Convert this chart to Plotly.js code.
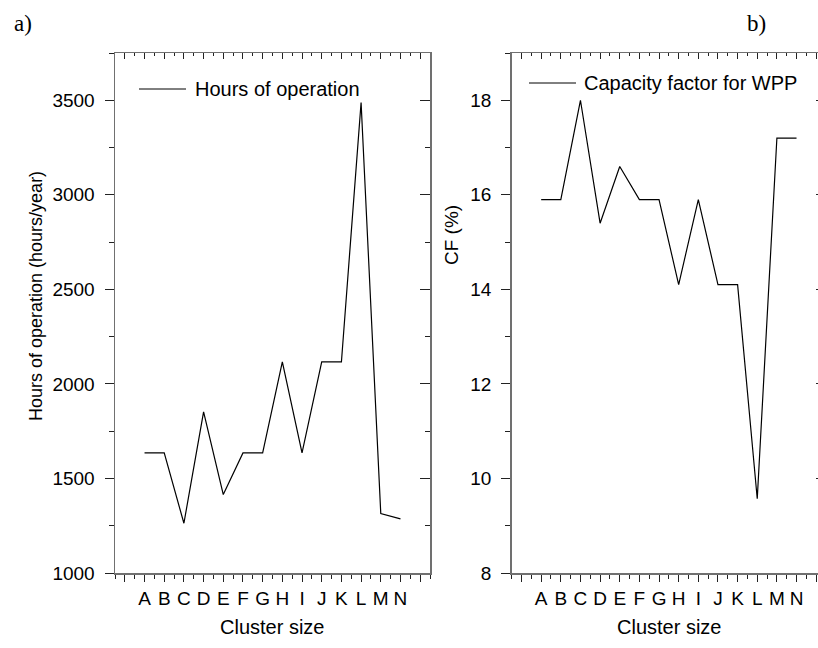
<!DOCTYPE html>
<html>
<head>
<meta charset="utf-8">
<script src="https://cdn.plot.ly/plotly-3.0.1.min.js"></script>
<style>
  html, body { margin: 0; padding: 0; overflow: hidden; background: #fff; }
  #chart { width: 830px; height: 648px; }
</style>
</head>
<body>
<div id="chart"></div>
<script>
// Cluster categories and the two measured series
const clusters = ['A', 'B', 'C', 'D', 'E', 'F', 'G', 'H', 'I', 'J', 'K', 'L', 'M', 'N'];
const hoursOfOperation = [1635, 1635, 1263, 1852, 1415, 1635, 1635, 2116, 1635, 2116, 2116, 3488, 1314, 1286];
const capacityFactor = [15.9, 15.9, 18.0, 15.4, 16.6, 15.9, 15.9, 14.1, 15.9, 14.1, 14.1, 9.57, 17.2, 17.2];
const hoursTicks = [1000, 1500, 2000, 2500, 3000, 3500];
const cfTicks = [8, 10, 12, 14, 16, 18];

const seriesNames = ['Hours of operation', 'Capacity factor for WPP'];
const axisTitles = ['Hours of operation (hours/year)', 'CF (%)', 'Cluster size'];
const panelLabels = ['a)', 'b)'];

// numeric positions 1..14 for the clusters; ticks also at 0 and 15 (unlabelled)
const xPos = clusters.map((_, i) => i + 1);
const xTickVals = [0].concat(xPos, [15]);
const xTickText = [''].concat(clusters, ['']);

const W = 830, H = 648;
const px = v => v / W;
const py = v => 1 - v / H;

const FONT = 'Liberation Sans, Arial, Helvetica, sans-serif';
const SERIF = 'Liberation Serif, Times New Roman, serif';
const AXIS_LINE = '#707070';
const TICK = '#222';

const yDom = [py(573), py(53)];
const xDomA = [px(115), px(430)];
const xDomB = [px(511.7), px(826)];
const xRange = [-0.5, 15.5];

function bottomAxis(domain, anchor) {
  return {
    domain: domain, anchor: anchor, range: xRange,
    tickmode: 'array', tickvals: xTickVals, ticktext: xTickText,
    ticks: 'outside', ticklen: 7, tickwidth: 1, tickcolor: TICK,
    minor: { ticks: 'outside', ticklen: 4, tickwidth: 1, tickcolor: TICK, dtick: 0.5, tick0: -0.5 },
    showline: true, linecolor: AXIS_LINE, linewidth: 1.5,
    showgrid: false, zeroline: false, ticklabelstandoff: 1,
    tickfont: { family: FONT, size: 19, color: '#000' }
  };
}
function topAxis(over, anchor) {
  return {
    overlaying: over, anchor: anchor, side: 'top', range: xRange,
    tickmode: 'array', tickvals: xTickVals, showticklabels: false,
    ticks: 'inside', ticklen: 6, tickwidth: 1, tickcolor: TICK,
    minor: { ticks: 'inside', ticklen: 3, tickwidth: 1, tickcolor: TICK, dtick: 0.5, tick0: -0.5 },
    showline: true, linecolor: AXIS_LINE, linewidth: 1.5,
    showgrid: false, zeroline: false
  };
}
function leftAxis(anchor, range, ticks, minorStep) {
  return {
    domain: yDom, anchor: anchor, range: range,
    tickmode: 'array', tickvals: ticks,
    ticks: 'outside', ticklen: 9, tickwidth: 1, tickcolor: TICK,
    minor: { ticks: 'outside', ticklen: 5, tickwidth: 1, tickcolor: TICK, dtick: minorStep, tick0: range[0] },
    showline: true, linecolor: AXIS_LINE, linewidth: 1.5,
    showgrid: false, zeroline: false, ticklabelstandoff: 6,
    tickfont: { family: FONT, size: 19, color: '#000' }
  };
}
function rightAxis(over, anchor, range, ticks, minorStep) {
  return {
    overlaying: over, anchor: anchor, side: 'right', range: range,
    tickmode: 'array', tickvals: ticks, showticklabels: false,
    ticks: 'inside', ticklen: 10, tickwidth: 1, tickcolor: TICK,
    minor: { ticks: 'inside', ticklen: 5, tickwidth: 1, tickcolor: TICK, dtick: minorStep, tick0: range[0] },
    showline: true, linecolor: AXIS_LINE, linewidth: 1.5,
    showgrid: false, zeroline: false
  };
}

const hoursRange = [1000, 3750];
const cfRange = [8, 19];

const traces = [
  { x: xPos, y: hoursOfOperation, name: seriesNames[0], type: 'scatter', mode: 'lines',
    line: { color: '#000', width: 1.2 }, xaxis: 'x', yaxis: 'y', showlegend: false },
  { x: xPos, y: capacityFactor, name: seriesNames[1], type: 'scatter', mode: 'lines',
    line: { color: '#000', width: 1.2 }, xaxis: 'x3', yaxis: 'y3', showlegend: false },
  // empty traces that carry the mirrored frame axes
  { x: [], y: [], xaxis: 'x2', yaxis: 'y2', showlegend: false, hoverinfo: 'skip' },
  { x: [], y: [], xaxis: 'x4', yaxis: 'y4', showlegend: false, hoverinfo: 'skip' }
];

// legend keys (short line + series name) inside each panel
const legendKeys = [
  { x0: 139, x1: 186, y: 89, tx: 193, text: seriesNames[0] },
  { x0: 529, x1: 576, y: 83, tx: 582, text: seriesNames[1] }
];

const shapes = legendKeys.map(k => ({
  type: 'line', xref: 'paper', yref: 'paper',
  x0: px(k.x0), x1: px(k.x1), y0: py(k.y), y1: py(k.y),
  line: { color: '#000', width: 1 }
}));

const annotations = legendKeys.map(k => ({
  xref: 'paper', yref: 'paper', x: px(k.tx), y: py(k.y),
  xanchor: 'left', yanchor: 'middle', showarrow: false, text: k.text,
  font: { family: FONT, size: 20, color: '#000' }
})).concat([
  { xref: 'paper', yref: 'paper', x: px(36), y: py(296), textangle: -90,
    xanchor: 'center', yanchor: 'middle', showarrow: false, text: axisTitles[0],
    font: { family: FONT, size: 18, color: '#000' } },
  { xref: 'paper', yref: 'paper', x: px(452), y: py(235), textangle: -90,
    xanchor: 'center', yanchor: 'middle', showarrow: false, text: axisTitles[1],
    font: { family: FONT, size: 19, color: '#000' } },
  { xref: 'paper', yref: 'paper', x: px(272), y: py(627),
    xanchor: 'center', yanchor: 'middle', showarrow: false, text: axisTitles[2],
    font: { family: FONT, size: 20, color: '#000' } },
  { xref: 'paper', yref: 'paper', x: px(669), y: py(627),
    xanchor: 'center', yanchor: 'middle', showarrow: false, text: axisTitles[2],
    font: { family: FONT, size: 20, color: '#000' } },
  { xref: 'paper', yref: 'paper', x: px(12), y: py(23),
    xanchor: 'left', yanchor: 'middle', showarrow: false, text: panelLabels[0],
    font: { family: SERIF, size: 23, color: '#000' } },
  { xref: 'paper', yref: 'paper', x: px(745), y: py(23),
    xanchor: 'left', yanchor: 'middle', showarrow: false, text: panelLabels[1],
    font: { family: SERIF, size: 23, color: '#000' } }
]);

const layout = {
  width: W, height: H,
  margin: { l: 0, r: 0, t: 0, b: 0, pad: 0 },
  paper_bgcolor: '#fff', plot_bgcolor: '#fff',
  showlegend: false,
  font: { family: FONT, color: '#000' },
  xaxis: bottomAxis(xDomA, 'y'),
  yaxis: leftAxis('x', hoursRange, hoursTicks, 250),
  xaxis2: topAxis('x', 'y2'),
  yaxis2: rightAxis('y', 'x2', hoursRange, hoursTicks, 250),
  xaxis3: bottomAxis(xDomB, 'y3'),
  yaxis3: leftAxis('x3', cfRange, cfTicks, 1),
  xaxis4: topAxis('x3', 'y4'),
  yaxis4: rightAxis('y3', 'x4', cfRange, cfTicks, 1),
  shapes: shapes,
  annotations: annotations
};

Plotly.newPlot('chart', traces, layout, { staticPlot: true, displayModeBar: false });
</script>
</body>
</html>
